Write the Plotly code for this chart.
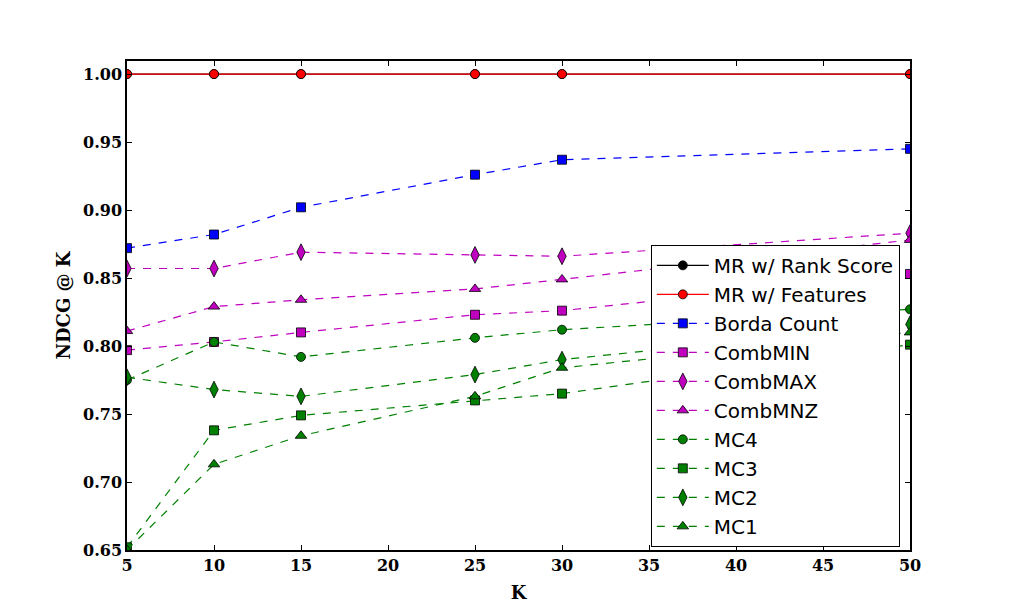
import plotly.graph_objects as go

# K values at which NDCG was measured
k_values = [5, 10, 15, 25, 30, 50]

mr_rank_score = [1.0, 1.0, 1.0, 1.0, 1.0, 1.0]
mr_features = [1.0, 1.0, 1.0, 1.0, 1.0, 1.0]
borda_count = [0.872, 0.882, 0.902, 0.926, 0.937, 0.945]
comb_min = [0.797, 0.803, 0.810, 0.823, 0.826, 0.853]
comb_max = [0.857, 0.857, 0.869, 0.867, 0.866, 0.883]
comb_mnz = [0.811, 0.829, 0.834, 0.842, 0.849, 0.878]
mc4 = [0.775, 0.803, 0.792, 0.806, 0.812, 0.827]
mc3 = [0.652, 0.738, 0.749, 0.760, 0.765, 0.801]
mc2 = [0.777, 0.768, 0.763, 0.779, 0.790, 0.816]
mc1 = [0.650, 0.713, 0.734, 0.763, 0.784, 0.810]

x_ticks = [5, 10, 15, 20, 25, 30, 35, 40, 45, 50]
y_ticks = [0.65, 0.70, 0.75, 0.80, 0.85, 0.90, 0.95, 1.00]

BLUE = "#0000ff"
MAG = "#bf00bf"
GREEN = "#008000"
DASH = "8px,8px"

series = [
    ("MR w/ Rank Score", mr_rank_score, "black", "circle", "solid"),
    ("MR w/ Features", mr_features, "#ff0000", "circle", "solid"),
    ("Borda Count", borda_count, BLUE, "square", DASH),
    ("CombMIN", comb_min, MAG, "square", DASH),
    ("CombMAX", comb_max, MAG, "diamond-tall", DASH),
    ("CombMNZ", comb_mnz, MAG, "triangle-up", DASH),
    ("MC4", mc4, GREEN, "circle", DASH),
    ("MC3", mc3, GREEN, "square", DASH),
    ("MC2", mc2, GREEN, "diamond-tall", DASH),
    ("MC1", mc1, GREEN, "triangle-up", DASH),
]

marker_sizes = {"diamond-tall": 12, "triangle-up": 10, "circle": 9, "square": 9}

fig = go.Figure()
for name, vals, color, symbol, dash in series:
    fig.add_trace(go.Scatter(
        x=k_values, y=vals, name=name, mode="lines+markers",
        line=dict(color=color, width=1.2, dash=dash),
        marker=dict(symbol=symbol, size=marker_sizes[symbol], color=color,
                    line=dict(color="black", width=0.8)),
    ))

axis_common = dict(
    showgrid=False, zeroline=False, showline=True, linecolor="black", linewidth=1.5,
    mirror="ticks", ticks="inside", ticklen=5, tickcolor="black",
    tickfont=dict(family="DejaVu Serif", size=16, color="black", weight="bold"),
)

fig.update_xaxes(
    range=[5, 50], tickvals=x_ticks, ticktext=[str(v) for v in x_ticks],
    title=dict(text="<b>K</b>", font=dict(family="DejaVu Serif", size=18, color="black"), standoff=12),
    **axis_common,
)
fig.update_yaxes(
    range=[0.65, 1.0096], tickvals=y_ticks, ticktext=[f"{v:.2f}" for v in y_ticks],
    title=dict(text="<b>NDCG @ K</b>", font=dict(family="DejaVu Serif", size=18, color="black"), standoff=8),
    **axis_common,
)

# page has an 8px body margin, so the figure is sized to fit inside the window
fig.update_layout(
    width=1004, height=604,
    margin=dict(l=119, r=102, t=53, b=62),
    paper_bgcolor="white", plot_bgcolor="white",
    legend=dict(
        x=0.669, y=0.624, xanchor="left", yanchor="top",
        bgcolor="white", bordercolor="black", borderwidth=1,
        font=dict(family="DejaVu Sans", size=20, color="black"),
        tracegroupgap=0, itemwidth=52,
    ),
)

fig.write_html("out.html")
